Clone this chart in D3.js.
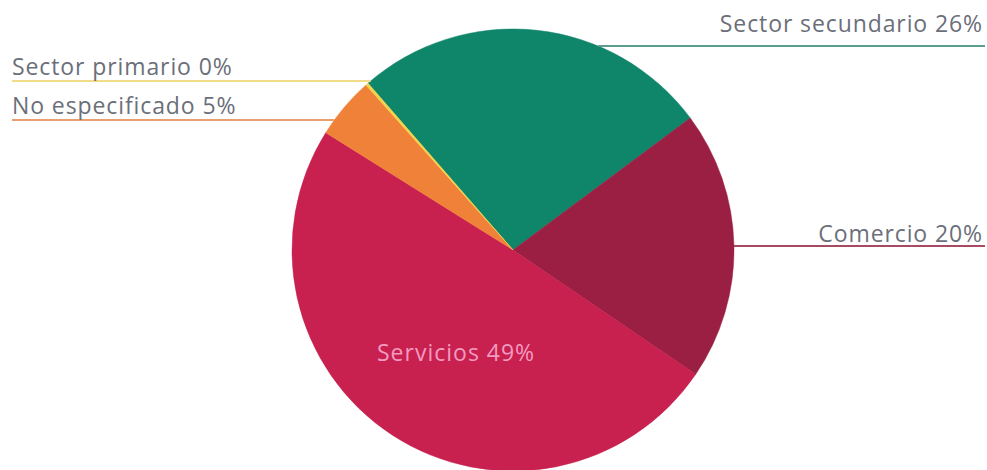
<!DOCTYPE html>
<html>
<head>
<meta charset="utf-8">
<script src="https://cdn.jsdelivr.net/npm/d3@7"></script>
<style>
  html, body { margin: 0; padding: 0; background: #ffffff; }
  svg { display: block; }
  text { font-family: "Open Sans", "Lato", sans-serif; }
</style>
</head>
<body>
<svg id="chart" width="987" height="470"></svg>
<script>
// ---- data ----
const categories = ["Sector secundario", "Comercio", "Servicios", "No especificado", "Sector primario"];
const values = [26.2, 19.7, 49.4, 4.5, 0.2];
const labelPercents = ["26%", "20%", "49%", "5%", "0%"];
const colors = ["#0f856a", "#9b1f42", "#c8204f", "#f08138", "#f3d34a"];
const lineColors = ["#5a9c90", "#a84a62", "#c8204f", "#e9a06e", "#f1dc8a"];

// ---- layout ----
const W = 987, H = 470;
const cx = 513, cy = 250, R = 221;
const startDeg = -41;

const svg = d3.select("#chart");
const g = svg.append("g").attr("transform", `translate(${cx},${cy})`);

const pie = d3.pie().sort(null).value(d => d.value)
  .startAngle(startDeg * Math.PI / 180)
  .endAngle(startDeg * Math.PI / 180 + 2 * Math.PI);
const data = categories.map((c, i) => ({ name: c, value: values[i], pct: labelPercents[i], color: colors[i], line: lineColors[i] }));
const arcs = pie(data);
const arc = d3.arc().innerRadius(0).outerRadius(R);

g.selectAll("path.slice").data(arcs).enter().append("path")
  .attr("class", "slice")
  .attr("d", arc)
  .attr("fill", d => d.data.color)
  .attr("stroke", d => d.data.color)
  .attr("stroke-width", 0.5);

// outside labels: horizontal leader lines at given heights
const outside = [
  { idx: 0, side: "right", lineY: 46, baseY: 32 },
  { idx: 1, side: "right", lineY: 246, baseY: 242 },
  { idx: 4, side: "left", lineY: 81, baseY: 75 },
  { idx: 3, side: "left", lineY: 120, baseY: 114 }
];
const textColor = "#6b6f7a";
outside.forEach(o => {
  const d = data[o.idx];
  const dy = o.lineY - cy;
  const dx = Math.sqrt(Math.max(0, R * R - dy * dy));
  let x1, x2, tx, anchor;
  if (o.side === "right") { x1 = cx + dx; x2 = 985; tx = 983; anchor = "end"; }
  else { x1 = 12; x2 = cx - dx; tx = 12; anchor = "start"; }
  svg.append("line").attr("x1", x1).attr("x2", x2).attr("y1", o.lineY).attr("y2", o.lineY)
    .attr("stroke", d.line).attr("stroke-width", 2);
  svg.append("text").attr("x", tx).attr("y", o.baseY).attr("text-anchor", anchor)
    .attr("fill", textColor).attr("font-size", 23).attr("letter-spacing", 0.9)
    .text(`${d.name} ${d.pct}`);
});

// inside label
svg.append("text").attr("x", 377).attr("y", 361).attr("fill", "#f49ac0")
  .attr("font-size", 23).attr("letter-spacing", 1.0)
  .text(`${data[2].name} ${data[2].pct}`);
</script>
</body>
</html>
